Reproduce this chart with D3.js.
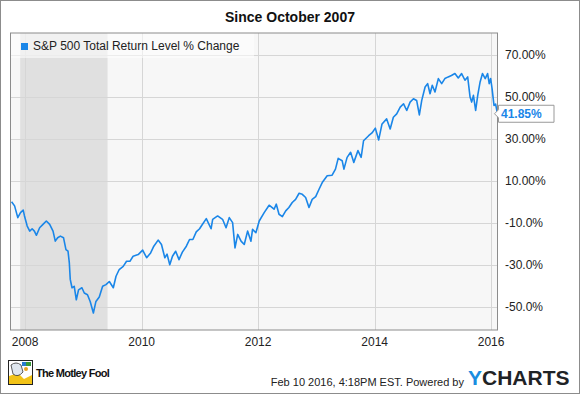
<!DOCTYPE html>
<html lang="en">
<head>
<meta charset="utf-8">
<title>Since October 2007</title>
<script src="https://cdn.jsdelivr.net/npm/d3@7"></script>
<style>
body { margin: 0; background: #fff; }
svg { display: block; font-family: "Liberation Sans", Arial, sans-serif; }
</style>
</head>
<body>
<svg width="580" height="394"></svg>
<script>

// weekly-ish readings of the S&P 500 total return, % change since Oct 2007
var dates = [
  "2007-10-08","2007-10-27","2007-11-16","2007-12-03","2007-12-20","2007-12-28",
  "2008-01-14","2008-01-30","2008-02-14","2008-02-28","2008-03-12","2008-04-01",
  "2008-04-22","2008-05-13","2008-06-03","2008-06-24","2008-07-08","2008-07-23",
  "2008-08-09","2008-08-29","2008-09-13","2008-09-26","2008-10-04","2008-10-10",
  "2008-10-21","2008-11-04","2008-11-17","2008-12-01","2008-12-22","2009-01-06",
  "2009-01-26","2009-02-12","2009-03-04","2009-03-20","2009-04-10","2009-05-01",
  "2009-05-22","2009-06-12","2009-07-07","2009-07-24","2009-08-13","2009-09-07",
  "2009-09-28","2009-10-19","2009-11-08","2009-12-10","2010-01-07","2010-02-01",
  "2010-02-26","2010-03-18","2010-04-14","2010-05-05","2010-05-26","2010-06-09",
  "2010-06-26","2010-07-13","2010-08-02","2010-08-23","2010-09-13","2010-10-08",
  "2010-10-28","2010-11-18","2010-12-09","2010-12-30","2011-01-10","2011-02-10",
  "2011-03-12","2011-03-22","2011-04-22","2011-05-23","2011-06-14","2011-07-04",
  "2011-07-25","2011-08-09","2011-08-26","2011-09-16","2011-10-06","2011-10-27",
  "2011-11-17","2011-11-27","2011-12-18","2012-01-08","2012-02-08","2012-03-10",
  "2012-04-10","2012-04-24","2012-05-11","2012-06-01","2012-06-22","2012-07-12",
  "2012-08-02","2012-08-23","2012-09-14","2012-10-04","2012-10-25","2012-11-15",
  "2012-12-05","2012-12-27","2013-01-17","2013-02-06","2013-03-09","2013-04-09",
  "2013-04-30","2013-05-17","2013-06-11","2013-06-22","2013-07-12","2013-08-03",
  "2013-08-23","2013-09-18","2013-10-08","2013-10-23","2013-11-24","2013-12-15",
  "2014-01-05","2014-01-26","2014-02-16","2014-03-17","2014-04-08","2014-04-28",
  "2014-05-19","2014-06-10","2014-07-01","2014-07-21","2014-08-11","2014-09-01",
  "2014-09-21","2014-10-08","2014-10-23","2014-11-13","2014-11-29","2014-12-14",
  "2014-12-28","2015-01-14","2015-02-04","2015-02-25","2015-03-17","2015-04-07",
  "2015-04-27","2015-05-19","2015-06-09","2015-06-30","2015-07-21","2015-08-07",
  "2015-08-22","2015-09-01","2015-09-12","2015-09-26","2015-10-09","2015-10-24",
  "2015-11-08","2015-11-25","2015-12-10","2015-12-20","2015-12-29","2016-01-07",
  "2016-01-19","2016-01-29","2016-02-10"
];
var values = [
  0, -2, -7.6, -5.2, -4, -6.8,
  -11.6, -14, -12.9, -14, -16, -12.4,
  -10.8, -9.2, -10.8, -14, -18.8, -17.2,
  -16.4, -17.2, -22.8, -23.6, -29, -37,
  -41, -40.3, -46.7, -42, -41, -43.5,
  -44.3, -47.5, -53, -47.5, -45.4, -40.3,
  -39.5, -38, -41, -35.5, -32.3, -30.8,
  -28.4, -28.4, -26, -25.2, -23.1, -26.7,
  -24.4, -21.2, -18.3, -20.4, -26.7, -25,
  -30, -26, -23.6, -27.6, -24, -21.2,
  -18, -18, -14.4, -12.9, -11.6, -8.1,
  -12.9, -8.4, -6.8, -8.4, -12.4, -7.6,
  -10, -22, -15.6, -18.8, -20.4, -14,
  -18.8, -13.2, -14.8, -9.2, -5.2, -1.7,
  -3.6, -1.2, -6, -7.1, -4.4, -2.8,
  -0.4, 1.1, 4, 3.5, 2, -2.8,
  1.1, 2.4, 5.9, 9.1, 12.3, 12.6,
  15.5, 20.6, 19.5, 15.5, 21.1, 23.5,
  18.7, 24.3, 21.1, 29, 31.4, 32.7,
  35, 29.4, 37, 39.4, 34.6, 40.2,
  41.8, 45, 46.6, 43.4, 47.4, 49,
  48.2, 41.3, 48.2, 54.6, 56.2, 51.4,
  55.4, 52.2, 58.6, 56.2, 58.6, 59.4,
  60.1, 61, 58.9, 61, 57.8, 59.4,
  49.8, 47.4, 50.6, 43.4, 50.6, 57,
  61, 58.6, 61, 56.2, 58.6, 53.8,
  45.8, 46.5, 41.85
];
var yTicks = [70, 50, 30, 10, -10, -30, -50];
var yTickLabels = ["70.00%", "50.00%", "30.00%", "10.00%", "-10.0%", "-30.0%", "-50.0%"];
var xTicks = ["2008-01-01", "2010-01-01", "2012-01-01", "2014-01-01", "2016-01-01"];
var recession = ["2007-12-01", "2009-06-01"];

var parse = d3.timeParse("%Y-%m-%d");
var data = dates.map(function(d, i) { return {date: parse(d), value: values[i]}; });

var svg = d3.select("svg"),
    plot = {left: 10.5, right: 497.5, top: 33, bottom: 330};

var x = d3.scaleTime()
    .domain([parse("2010-01-01"), parse(dates[dates.length - 1])])
    .range([141.7, plot.right]);
var y = d3.scaleLinear()
    .domain([-61.1, 80.3])
    .range([plot.bottom, plot.top]);

// outer frame
svg.append("rect")
    .attr("x", 0.5).attr("y", 0.5).attr("width", 579).attr("height", 393)
    .attr("fill", "#fff").attr("stroke", "#8c8c8c");

svg.append("text")
    .attr("x", 290).attr("y", 22)
    .attr("text-anchor", "middle")
    .style("font-size", "14px").style("font-weight", "bold")
    .attr("fill", "#111")
    .text("Since October 2007");

// plot area
svg.append("rect")
    .attr("x", plot.left).attr("y", plot.top)
    .attr("width", plot.right - plot.left).attr("height", plot.bottom - plot.top)
    .attr("fill", "#f7f7f7");

svg.append("rect")
    .attr("x", x(parse(recession[0]))).attr("y", plot.top)
    .attr("width", x(parse(recession[1])) - x(parse(recession[0])))
    .attr("height", plot.bottom - plot.top)
    .attr("fill", "#e0e0e0");

var g = svg.append("g");

g.selectAll(".hgrid")
  .data(yTicks)
  .enter().append("line")
    .attr("class", "hgrid")
    .attr("x1", plot.left).attr("x2", plot.right)
    .attr("y1", function(d) { return Math.round(y(d)) + 0.5; })
    .attr("y2", function(d) { return Math.round(y(d)) + 0.5; })
    .attr("stroke", "#d6d6d6");

g.selectAll(".vgrid")
  .data(xTicks)
  .enter().append("line")
    .attr("class", "vgrid")
    .attr("y1", plot.top).attr("y2", plot.bottom)
    .attr("x1", function(d) { return Math.round(x(parse(d))) + 0.5; })
    .attr("x2", function(d) { return Math.round(x(parse(d))) + 0.5; })
    .attr("stroke", "#d6d6d6");

// legend
svg.append("rect")
    .attr("x", plot.left + 0.5).attr("y", plot.top)
    .attr("width", 243).attr("height", 25)
    .attr("fill", "#fff").attr("fill-opacity", 0.55);
svg.append("rect")
    .attr("x", 21).attr("y", 43).attr("width", 7).attr("height", 7)
    .attr("fill", "#1a86e8");
svg.append("text")
    .attr("x", 33).attr("y", 50)
    .style("font-size", "12px")
    .attr("fill", "#222")
    .text("S&P 500 Total Return Level % Change");

svg.append("clipPath").attr("id", "plotclip")
  .append("rect")
    .attr("x", plot.left).attr("y", plot.top)
    .attr("width", plot.right - plot.left).attr("height", plot.bottom - plot.top);

var line = d3.line()
    .x(function(d) { return x(d.date); })
    .y(function(d) { return y(d.value); });

svg.append("path")
    .datum(data)
    .attr("clip-path", "url(#plotclip)")
    .attr("fill", "none")
    .attr("stroke", "#1a86e8")
    .attr("stroke-width", 1.6)
    .attr("stroke-linejoin", "round")
    .attr("d", line);

svg.append("rect")
    .attr("x", plot.left).attr("y", plot.top)
    .attr("width", plot.right - plot.left).attr("height", plot.bottom - plot.top)
    .attr("fill", "none").attr("stroke", "#8c8c8c");

// axes labels
svg.selectAll(".ylab")
  .data(yTicks)
  .enter().append("text")
    .attr("class", "ylab")
    .attr("x", 505)
    .attr("y", function(d) { return y(d) + 4; })
    .style("font-size", "12px")
    .attr("fill", "#222")
    .text(function(d, i) { return yTickLabels[i]; });

svg.selectAll(".xlab")
  .data(xTicks)
  .enter().append("text")
    .attr("class", "xlab")
    .attr("x", function(d) { return x(parse(d)); })
    .attr("y", 346)
    .attr("text-anchor", "middle")
    .style("font-size", "12px")
    .attr("fill", "#222")
    .text(function(d) { return d.slice(0, 4); });

// last value callout
var last = data[data.length - 1],
    ly = y(last.value);
svg.append("path")
    .attr("d", "M" + (plot.right - 3) + "," + ly + " L" + (plot.right + 1) + "," + (ly - 4) +
               " L" + (plot.right + 1) + "," + (ly - 8.5) + " L554," + (ly - 8.5) +
               " L554," + (ly + 8.5) + " L" + (plot.right + 1) + "," + (ly + 8.5) +
               " L" + (plot.right + 1) + "," + (ly + 4) + "Z")
    .attr("fill", "#fff").attr("stroke", "#999");
svg.append("text")
    .attr("x", 501).attr("y", ly + 4.5)
    .style("font-size", "12px").style("font-weight", "bold")
    .attr("fill", "#1a86e8")
    .text(d3.format(".2f")(last.value) + "%");

// footer: Motley Fool mark
var logo = svg.append("g").attr("transform", "translate(8,360)");
logo.append("rect").attr("x", 0.5).attr("y", 0.5).attr("width", 24).attr("height", 24)
    .attr("fill", "#fff").attr("stroke", "#222");
logo.append("path").attr("d", "M1,16 L10,13 L16,19 L24,15 L24,24 L1,24 Z").attr("fill", "#f2c318");
logo.append("path").attr("d", "M3,5 Q8,1 13,5 L15,12 Q10,18 5,14 Z")
    .attr("fill", "#dfe6ee").attr("stroke", "#333").attr("stroke-width", 0.8);
logo.append("rect").attr("x", 14).attr("y", 2).attr("width", 4).attr("height", 4).attr("fill", "#2a7bd0");
logo.append("rect").attr("x", 18).attr("y", 2).attr("width", 5).attr("height", 4).attr("fill", "#3a9a3a");
logo.append("circle").attr("cx", 18).attr("cy", 9).attr("r", 2).attr("fill", "#e8a020");
logo.append("text")
    .attr("x", 28).attr("y", 17)
    .style("font-size", "11px").style("font-weight", "bold")
    .style("letter-spacing", "-0.7px")
    .attr("fill", "#111")
    .text("The Motley Fool");

svg.append("text")
    .attr("x", 464).attr("y", 386)
    .attr("text-anchor", "end")
    .style("font-size", "11px")
    .attr("fill", "#222")
    .text("Feb 10 2016, 4:18PM EST.  Powered by");

var yc = svg.append("text")
    .attr("x", 468).attr("y", 385)
    .style("font-size", "21px").style("font-weight", "bold");
yc.append("tspan").attr("fill", "#1a8de0").text("Y");
yc.append("tspan").attr("fill", "#1f2326").text("CHARTS");

</script>
</body>
</html>
